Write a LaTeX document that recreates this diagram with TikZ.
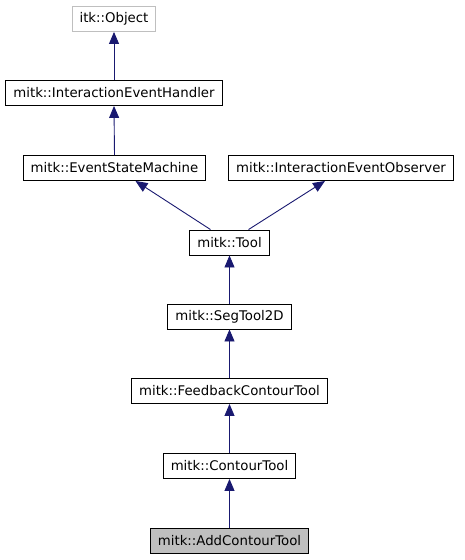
\documentclass[tikz,border=0pt]{standalone}
\usepackage{fontspec}
\setsansfont{DejaVu Sans}
\usepackage{xcolor}
\definecolor{edgeblue}{HTML}{191970}
\definecolor{grey75}{HTML}{BFBFBF}
\usepackage{tikz}
\usetikzlibrary{arrows.meta, positioning}

\begin{document}
\begin{tikzpicture}[
    x=1pt, y=-1pt,
    font=\sffamily\fontsize{13.3}{16}\selectfont,
    cls/.style={draw=black, fill=white, minimum height=25pt, inner xsep=7.5pt, inner ysep=0pt, line width=0.9pt},
    extcls/.style={cls, draw=grey75},
    curcls/.style={cls, fill=grey75},
    inherit/.style={draw=edgeblue, line width=0.9pt, -{Triangle[length=12pt, width=10pt]}}
]
\useasboundingbox (0,0) rectangle (464,560);

% ── Base Classes ──
\node[extcls] (obj) at (114,19) {itk::Object};
\node[cls] (ieh) at (114,93) {mitk::InteractionEventHandler};

% ── Second Row ──
\node[cls] (esm) at (114.5,168) {mitk::EventStateMachine};
\node[cls] (ieo) at (341,168) {mitk::InteractionEventObserver};

% ── Tool Chain ──
\node[cls] (tool) at (229.5,242.5) {mitk::Tool};
\node[cls] (seg) at (229.5,316.5) {mitk::SegTool2D};
\node[cls] (fct) at (229.5,391) {mitk::FeedbackContourTool};
\node[cls] (ct) at (229.5,466) {mitk::ContourTool};
\node[curcls] (act) at (229.5,540.5) {mitk::AddContourTool};

% ── Inheritance ──
\draw[inherit] (ieh.north) -- (obj.south);
\draw[inherit] (esm.north) -- (ieh.south);
\draw[inherit] ([xshift=-19pt]tool.north) -- ([xshift=21pt]esm.south);
\draw[inherit] ([xshift=19pt]tool.north) -- ([xshift=-16pt]ieo.south);
\draw[inherit] (seg.north) -- (tool.south);
\draw[inherit] (fct.north) -- (seg.south);
\draw[inherit] (ct.north) -- (fct.south);
\draw[inherit] (act.north) -- (ct.south);
\end{tikzpicture}
\end{document}
